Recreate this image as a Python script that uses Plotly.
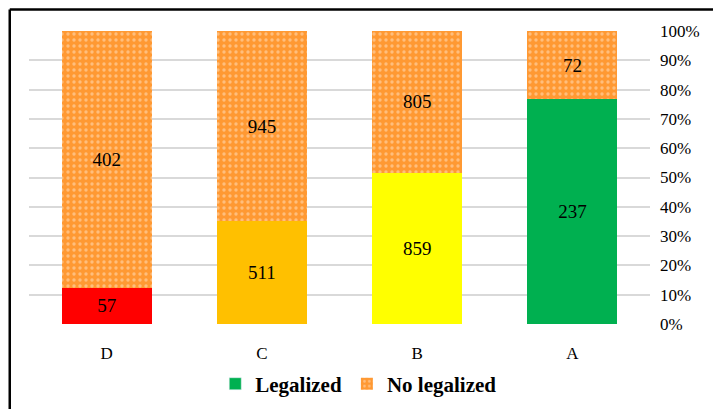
import plotly.graph_objects as go

# data
categories  = ["D", "C", "B", "A"]
legalized   = [57, 511, 859, 237]
no_legal    = [402, 945, 805, 72]
legal_cols  = ["#FF0000", "#FFC000", "#FFFF00", "#00B050"]
tick_vals   = [0, 10, 20, 30, 40, 50, 60, 70, 80, 90, 100]
tick_text   = [f"{v}%" for v in tick_vals]

ORANGE = "#FF9933"
GREEN  = "#00B050"
GRID   = "#D9D9D9"
FONT   = "Liberation Serif, Times New Roman, serif"

fig = go.Figure()

'''legalized segment, one colour per category'''
fig.add_trace(go.Bar(
    x=categories, y=legalized,
    marker=dict(color=legal_cols, line=dict(width=0)),
    text=[str(v) for v in legalized],
    textposition="inside", insidetextanchor="middle",
    textfont=dict(color="black", size=19, family=FONT),
    showlegend=False, hoverinfo="skip",
))

'''no legalized segment, dotted orange'''
fig.add_trace(go.Bar(
    x=categories, y=no_legal,
    name="No legalized",
    marker=dict(color=ORANGE, line=dict(width=0),
                pattern=dict(shape=".", fgcolor="#FFE3C8", size=6,
                             solidity=0.25, fillmode="overlay")),
    text=[str(v) for v in no_legal],
    textposition="inside", insidetextanchor="middle",
    textfont=dict(color="black", size=19, family=FONT),
    hoverinfo="skip", legendrank=2,
))

'''legend-only entry for legalized (green key)'''
fig.add_trace(go.Bar(
    x=[None], y=[None], name="Legalized",
    marker=dict(color=GREEN),
    legendrank=1,
))

'''page body has an 8px margin, so everything is shifted; right/bottom 8px fall off-screen'''
fig.update_layout(
    width=721, height=409,
    barmode="stack", barnorm="percent", bargap=0.42,
    plot_bgcolor="white", paper_bgcolor="white",
    font=dict(family=FONT, color="black", size=17),
    margin=dict(l=21, r=79, t=23, b=93, autoexpand=False),
    uniformtext=dict(mode=False),
    legend=dict(orientation="h", x=0.531, xanchor="center", y=-0.205, yanchor="middle",
                font=dict(family=FONT, size=21, color="black", weight="bold"),
                itemwidth=30, traceorder="normal"),
    shapes=[
        dict(type="line", xref="paper", yref="paper", x0=-0.031, x1=-0.031, y0=-0.5, y1=1.073,
             line=dict(color="black", width=2.5)),
        dict(type="line", xref="paper", yref="paper", x0=-0.031, x1=1.2, y0=1.073, y1=1.073,
             line=dict(color="black", width=2.5)),
    ],
)
fig.update_xaxes(showgrid=False, showline=False, ticks="", automargin=False,
                 ticklabelstandoff=17, tickfont=dict(size=17, family=FONT))
fig.update_yaxes(side="right", range=[0, 100], tickvals=tick_vals, ticktext=tick_text,
                 showgrid=True, gridcolor=GRID, gridwidth=1.5, zeroline=False, automargin=False,
                 showline=False, ticks="", ticklabelstandoff=9,
                 tickfont=dict(size=17, family=FONT))

fig.write_html("out.html")
